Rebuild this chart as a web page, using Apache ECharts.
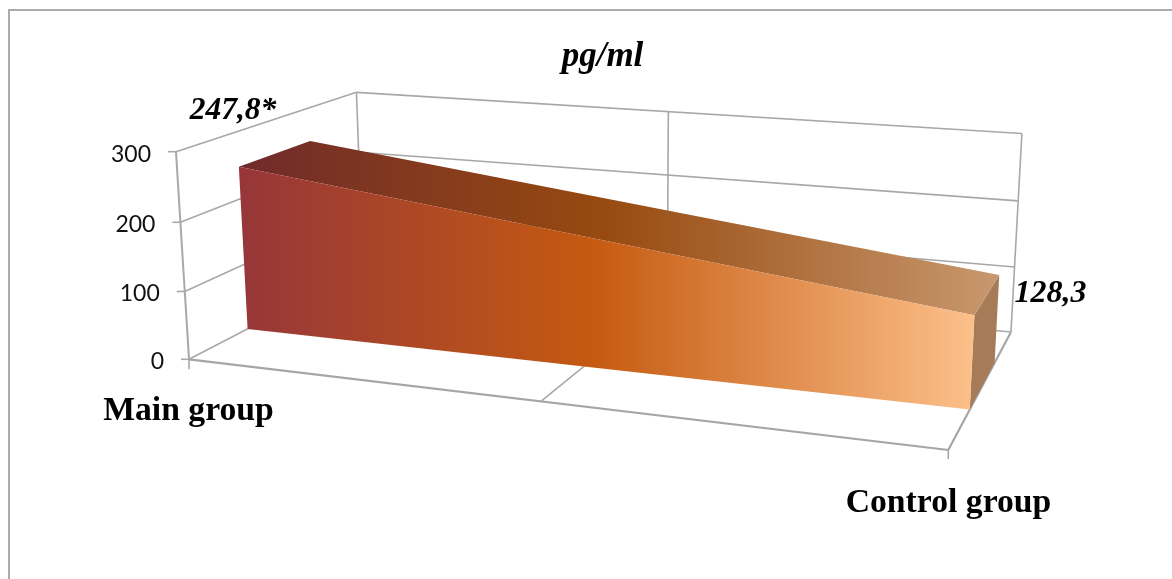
<!DOCTYPE html>
<html><head><meta charset="utf-8">
<style>html,body{margin:0;padding:0;background:#fff;overflow:hidden}#c{width:1172px;height:579px}</style>
<script src="https://cdn.jsdelivr.net/npm/echarts@6/dist/echarts.min.js"></script>
</head><body><div id="c"></div>
<script>
const categories = ['Main group', 'Control group'];
const values = [247.8, 128.3];
const valueLabels = ['247,8*', '128,3'];
const valueTicks = [0, 100, 200, 300];
const chartTitle = 'pg/ml';

// view of the unit box (x along categories, y up, z into the page)
const view = {O:[189,359.3],X:[948.3,450],Y:[176,151.7],Z:[363,269],
  extra:[{p:[1,0,1],q:[1010.7,332.7]},{p:[1,1,1],q:[1022.3,133.3]},{p:[0,1,1],q:[355,93.3]}]};
const depth = {front:0.3, back:0.7};

function solveView(){
  const A=[],B=[];
  const {O,X,Y,Z}=view;
  view.extra.forEach(({p,q})=>{
    const [x,y,z]=p;
    for(const k of [0,1]){
      A.push([x*(X[k]-q[k]),y*(Y[k]-q[k]),z*(Z[k]-q[k])]);
      B.push(q[k]-(x*X[k]+y*Y[k]+z*Z[k]-O[k]*(x+y+z-1)));
    }
  });
  const N=[[0,0,0,0],[0,0,0,0],[0,0,0,0]];
  A.forEach((r,i)=>{for(let a=0;a<3;a++){for(let b=0;b<3;b++)N[a][b]+=r[a]*r[b];N[a][3]+=r[a]*B[i];}});
  for(let i=0;i<3;i++){
    let m=i;for(let j=i+1;j<3;j++)if(Math.abs(N[j][i])>Math.abs(N[m][i]))m=j;
    [N[i],N[m]]=[N[m],N[i]];
    for(let j=0;j<3;j++){if(j===i)continue;const f=N[j][i]/N[i][i];for(let c=i;c<4;c++)N[j][c]-=f*N[i][c];}
  }
  return [N[0][3]/N[0][0],N[1][3]/N[1][1],N[2][3]/N[2][2]];
}
const D=solveView();
function project(x,y,z){
  const {O,X,Y,Z}=view;
  const w=1+D[0]*x+D[1]*y+D[2]*z;
  const f=k=>(O[k]+(X[k]*(1+D[0])-O[k])*x+(Y[k]*(1+D[1])-O[k])*y+(Z[k]*(1+D[2])-O[k])*z)/w;
  return [f(0),f(1)];
}
// library scale -> unit box
function unit(api,params,i,v){
  const c=api.coord([i,v]);const r=params.coordSys;
  return [(c[0]-r.x)/r.width,(r.y+r.height-c[1])/r.height];
}
const GRID='#A8A8A8';
function seg(a,b,w,col){return {type:'line',shape:{x1:a[0],y1:a[1],x2:b[0],y2:b[1]},style:{stroke:col||GRID,lineWidth:w||1.6},silent:true};}
function txt(x,y,text,font,align,fill){return {type:'text',style:{x,y,text,font,align:align||'left',verticalAlign:'middle',fill:fill||'#000'},silent:true};}

const serif='"Liberation Serif",serif';
const axisFont='23px Lato,sans-serif';

function renderWalls(params,api){
  const i=params.dataIndex;const v=api.value(0);
  const yy=unit(api,params,0,v)[1];
  const a=project(0,yy,0);
  return {type:'group',children:[
    seg(a,project(0,yy,1)),
    seg(project(0,yy,1),project(1,yy,1)),
    seg([a[0]-8,a[1]],a),
    txt(a[0]-25,a[1]+2.5,String(valueTicks[i]),axisFont,'right','#111')
  ]};
}
function renderFrame(params,api){
  const top=unit(api,params,0,valueTicks[valueTicks.length-1])[1];
  const mid=0.5;
  return {type:'group',children:[
    seg(project(0,0,0),project(0,top,0),2),
    seg(project(0,0,0),project(1,0,0),2.2,'#A6A6A6'),
    seg(project(1,0,0),project(1,0,1),2.2,'#A6A6A6'),
    seg(project(mid,0,0),project(mid,0,1)),
    seg(project(0,0,1),project(0,top,1)),
    seg(project(1,0,1),project(1,top,1)),
    seg(project(mid,0,1),project(mid,top,1)),
    seg(project(0,0,0),[project(0,0,0)[0],project(0,0,0)[1]+10],1.6),
    seg(project(1,0,0),[project(1,0,0)[0],project(1,0,0)[1]+9],1.6)
  ]};
}
const stops=(a,b,c)=>new echarts.graphic.LinearGradient(0,0,1,0,[{offset:0,color:a},{offset:0.48,color:b},{offset:1,color:c}]);
function poly(points,fill){return {type:'polygon',shape:{points},style:{fill,stroke:null},silent:true};}
function renderArea(params,api){
  const i=params.dataIndex;
  if(i>=categories.length-1)return null;
  const a=unit(api,params,i,api.value(1));
  const b=unit(api,params,i+1,values[i+1]);
  const zf=depth.front,zb=depth.back;
  const ft0=project(a[0],a[1],zf),ft1=project(b[0],b[1],zf),fb0=project(a[0],0,zf),fb1=project(b[0],0,zf);
  const bt0=project(a[0],a[1],zb),bt1=project(b[0],b[1],zb),bb1=project(b[0],0,zb);
  return {type:'group',children:[
    poly([ft1,bt1,bb1,fb1],'#A67C58'),
    poly([ft0,bt0,bt1,ft1],stops('#702A2B','#974A10','#C8986E')),
    poly([ft0,ft1,fb1,fb0],stops('#963639','#C55A11','#FCC08A'))
  ]};
}
const labelPos=[{v:[233,111],c:[188.5,411]},{v:[1050.5,294],c:[948.5,503.5]}];
function renderLabels(params,api){
  const i=params.dataIndex;
  const L=labelPos[i];
  return {type:'group',children:[
    txt(L.v[0],L.v[1],valueLabels[i],'italic bold '+(i?32:31.5)+'px '+serif,'center'),
    txt(L.c[0],L.c[1],categories[i],'bold 33.7px '+serif,'center')
  ]};
}
const chart=echarts.init(document.getElementById('c'));
chart.setOption({
  animation:false,
  title:{text:chartTitle,left:597.5,top:34,textAlign:'center',textStyle:{fontFamily:'Liberation Serif',fontStyle:'italic',fontWeight:'bold',fontSize:35,color:'#000'}},
  grid:{left:9,top:10,right:0,bottom:0,show:false},
  graphic:[
    {type:'line',silent:true,shape:{x1:9,y1:10,x2:1172,y2:10},style:{stroke:'#ABABAB',lineWidth:2}},
    {type:'line',silent:true,shape:{x1:9,y1:9,x2:9,y2:579},style:{stroke:'#ABABAB',lineWidth:2}}
  ],
  xAxis:{type:'category',data:categories,boundaryGap:false,show:false},
  yAxis:{type:'value',min:0,max:300,interval:100,show:false},
  series:[
    {type:'custom',z:1,clip:false,silent:true,coordinateSystem:'cartesian2d',encode:{x:1,y:0},data:valueTicks.map(v=>[v,0]),renderItem:renderWalls},
    {type:'custom',z:2,clip:false,silent:true,coordinateSystem:'cartesian2d',data:[[0,0]],renderItem:renderFrame},
    {type:'custom',z:3,clip:false,silent:true,coordinateSystem:'cartesian2d',data:values.map((v,i)=>[i,v]),renderItem:renderArea},
    {type:'custom',z:4,clip:false,silent:true,coordinateSystem:'cartesian2d',data:values.map((v,i)=>[i,v]),renderItem:renderLabels}
  ]
});
</script></body></html>
